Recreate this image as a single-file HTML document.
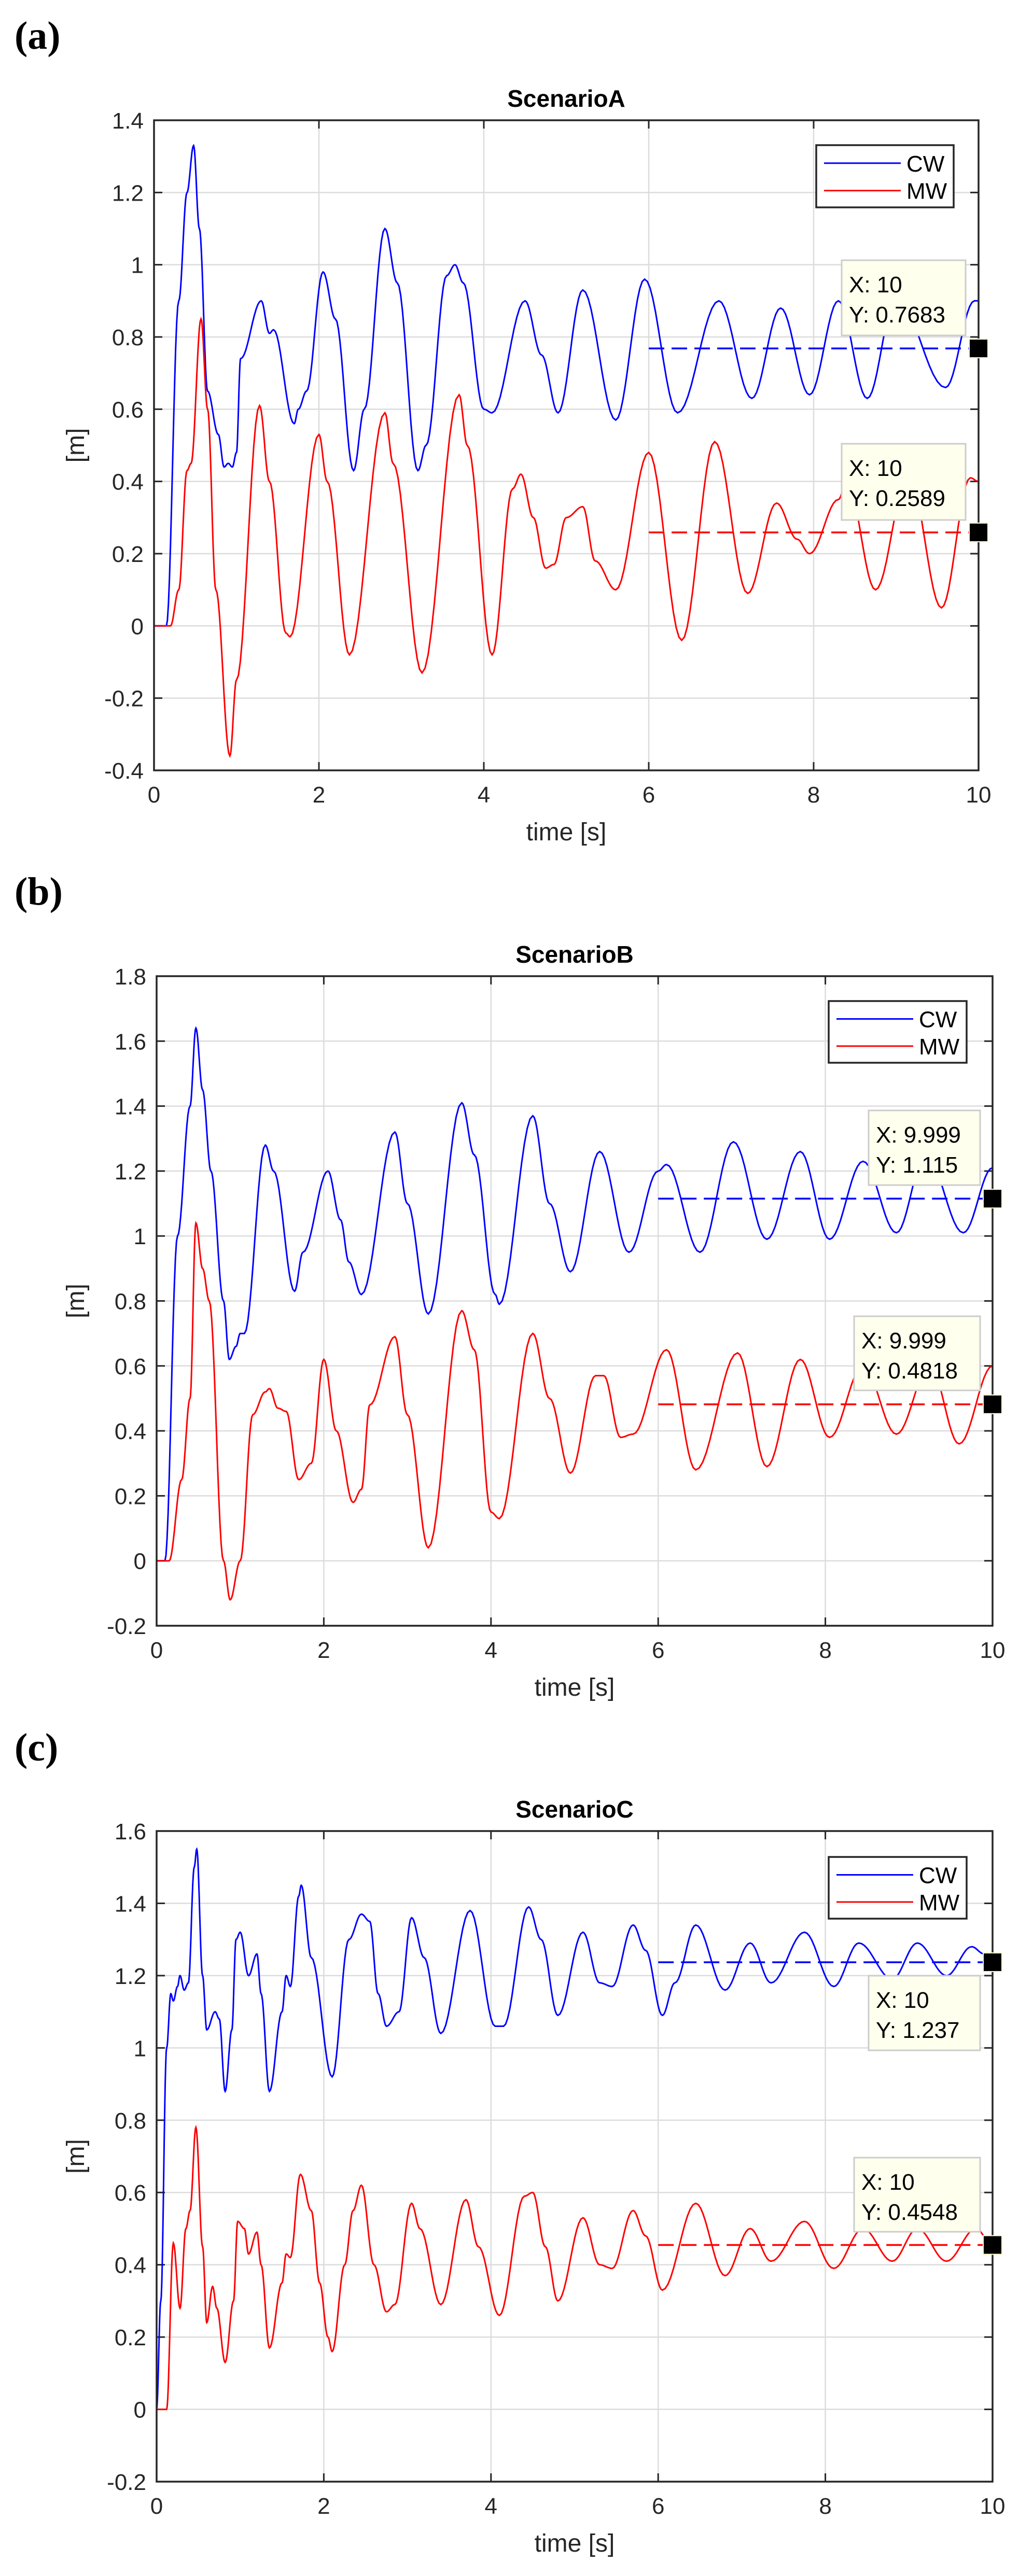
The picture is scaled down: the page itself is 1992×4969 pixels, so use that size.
<!DOCTYPE html>
<html><head><meta charset="utf-8"><style>
html,body{margin:0;padding:0;background:#fff}
svg text{font-family:"Liberation Sans",Arial,sans-serif}
</style></head><body>
<svg id="s" xmlns="http://www.w3.org/2000/svg" width="1992" height="4964" viewBox="0 0 1992 4964"></svg>
<script>
const NS="http://www.w3.org/2000/svg";const S=document.getElementById('s');
function el(t,a,txt){const e=document.createElementNS(NS,t);for(const k in a)e.setAttribute(k,a[k]);if(txt!==undefined)e.textContent=txt;S.appendChild(e);return e;}
function path(pts,P){let d="";const X=t=>P.L+(P.R-P.L)*t/10,Y=v=>P.B-(P.B-P.T)*(v-P.ymin)/(P.ymax-P.ymin);
 for(let i=0;i<pts.length-1;i++){const [t0,v0]=pts[i],[t1,v1]=pts[i+1];const n=12;
  for(let k=0;k<=n;k++){if(i>0&&k==0)continue;const f=k/n,t=t0+(t1-t0)*f,c=(1-Math.cos(Math.PI*f))/2,v=v0+(v1-v0)*c;
   d+=(d?"L":"M")+X(t).toFixed(1)+","+Y(v).toFixed(1);}}
 return d;}
function panel(P){
 const X=t=>P.L+(P.R-P.L)*t/10,Y=v=>P.B-(P.B-P.T)*(v-P.ymin)/(P.ymax-P.ymin);
 el('text',{x:28,y:P.lab+24,'font-size':76,'font-weight':'bold',style:'font-family:"Liberation Serif",serif'},P.letter);
 el('text',{x:(P.L+P.R)/2,y:P.T-26,'font-size':46,'font-weight':'bold','text-anchor':'middle'},P.title);
 for(let t=0;t<=10;t+=2){el('line',{x1:X(t),x2:X(t),y1:P.T,y2:P.B,stroke:'#dcdcdc','stroke-width':2.5});}
 for(let v=P.ymin;v<=P.ymax+1e-9;v+=0.2){el('line',{x1:P.L,x2:P.R,y1:Y(v),y2:Y(v),stroke:'#dcdcdc','stroke-width':2.5});}
 for(let t=0;t<=10;t+=2){el('line',{x1:X(t),x2:X(t),y1:P.B,y2:P.B-16,stroke:'#262626','stroke-width':3});el('line',{x1:X(t),x2:X(t),y1:P.T,y2:P.T+16,stroke:'#262626','stroke-width':3});
  el('text',{x:X(t),y:P.B+62,'font-size':44,'text-anchor':'middle',fill:'#262626'},String(t));}
 for(let v=P.ymin;v<=P.ymax+1e-9;v+=0.2){const vv=Math.round(v*10)/10;el('line',{x1:P.L,x2:P.L+16,y1:Y(v),y2:Y(v),stroke:'#262626','stroke-width':3});el('line',{x1:P.R,x2:P.R-16,y1:Y(v),y2:Y(v),stroke:'#262626','stroke-width':3});
  el('text',{x:P.L-20,y:Y(v)+16,'font-size':44,'text-anchor':'end',fill:'#262626'},String(vv));}
 el('text',{x:(P.L+P.R)/2,y:P.B+135,'font-size':48,'text-anchor':'middle',fill:'#262626'},'time [s]');
 el('text',{x:0,y:0,'font-size':48,'text-anchor':'middle',fill:'#262626',transform:`translate(162,${(P.T+P.B)/2}) rotate(-90)`},'[m]');
 el('path',{d:path(P.cw,P),fill:'none',stroke:'#0000ff','stroke-width':3});
 el('path',{d:path(P.mw,P),fill:'none',stroke:'#ff0000','stroke-width':3});
 el('line',{x1:X(6),x2:X(10),y1:Y(P.dv[0]),y2:Y(P.dv[0]),stroke:'#0000ff','stroke-width':3.5,'stroke-dasharray':'30 14'});
 el('line',{x1:X(6),x2:X(10),y1:Y(P.dv[1]),y2:Y(P.dv[1]),stroke:'#ff0000','stroke-width':3.5,'stroke-dasharray':'30 14'});
 el('rect',{x:P.L,y:P.T,width:P.R-P.L,height:P.B-P.T,fill:'none',stroke:'#262626','stroke-width':3.5});
 const g=P.leg;el('rect',{x:g[0],y:g[1],width:g[2]-g[0],height:g[3]-g[1],fill:'#fff',stroke:'#262626','stroke-width':3.5});
 const r1=g[1]+(g[3]-g[1])*0.29,r2=g[1]+(g[3]-g[1])*0.73;
 el('line',{x1:g[0]+15,x2:g[0]+163,y1:r1,y2:r1,stroke:'#0000ff','stroke-width':3});
 el('line',{x1:g[0]+15,x2:g[0]+163,y1:r2,y2:r2,stroke:'#ff0000','stroke-width':3});
 el('text',{x:g[0]+174,y:r1+16,'font-size':44},'CW');el('text',{x:g[0]+174,y:r2+16,'font-size':44},'MW');
 P.tips.forEach(([x0,y0,x1,y1,a,b])=>{el('rect',{x:x0,y:y0,width:x1-x0,height:y1-y0,fill:'#ffffee',stroke:'#cccccc','stroke-width':3});
  el('text',{x:x0+14,y:y0+62,'font-size':44},a);el('text',{x:x0+14,y:y0+120,'font-size':44},b);});
 P.dv.forEach(v=>el('rect',{x:P.R-18,y:Y(v)-18,width:36,height:36,fill:'#000',stroke:'#ffffcc','stroke-width':2}));
}
panel({letter:'(a)',lab:70,title:'ScenarioA',L:297,R:1887,T:232,B:1486,ymin:-0.4,ymax:1.4,leg:[1574,280,1839,400],dv:[0.7683,0.2589],
 tips:[[1623,502,1862,647,'X: 10','Y: 0.7683'],[1623,856,1862,1003,'X: 10','Y: 0.2589']],
 cw:[[0,0],[0.15,0],[0.3,0.9],[0.4,1.2],[0.48,1.33],[0.55,1.1],[0.65,0.65],[0.78,0.53],[0.85,0.44],[0.9,0.45],[0.95,0.44],[1.0,0.48],[1.05,0.74],[1.3,0.9],[1.4,0.81],[1.45,0.82],[1.7,0.56],[1.75,0.6],[1.85,0.65],[2.05,0.98],[2.2,0.85],[2.42,0.43],[2.55,0.6],[2.8,1.1],[2.95,0.95],[3.2,0.43],[3.3,0.5],[3.55,0.97],[3.65,1.0],[3.75,0.95],[4.0,0.6],[4.1,0.59],[4.5,0.9],[4.7,0.75],[4.9,0.59],[5.2,0.93],[5.6,0.57],[5.95,0.96],[6.35,0.59],[6.85,0.9],[7.25,0.63],[7.6,0.88],[7.95,0.64],[8.3,0.9],[8.65,0.63],[9.0,0.91],[9.6,0.66],[9.95,0.9],[10,0.9]],
 mw:[[0,0],[0.2,0],[0.3,0.1],[0.4,0.43],[0.45,0.45],[0.57,0.85],[0.65,0.6],[0.75,0.1],[0.92,-0.36],[1.0,-0.15],[1.28,0.61],[1.4,0.4],[1.6,-0.02],[1.65,-0.03],[2.0,0.53],[2.1,0.4],[2.37,-0.08],[2.8,0.59],[2.9,0.45],[3.25,-0.13],[3.7,0.64],[3.8,0.5],[4.1,-0.08],[4.35,0.38],[4.45,0.42],[4.6,0.3],[4.75,0.16],[4.85,0.17],[5.0,0.3],[5.2,0.33],[5.35,0.18],[5.6,0.1],[6.0,0.48],[6.4,-0.04],[6.8,0.51],[7.2,0.09],[7.55,0.34],[7.8,0.24],[7.95,0.2],[8.3,0.35],[8.4,0.4],[8.75,0.1],[9.15,0.42],[9.55,0.05],[9.9,0.41],[10,0.4]]});
panel({letter:'(b)',lab:1721,title:'ScenarioB',L:302,R:1914,T:1883,B:3136,ymin:-0.2,ymax:1.8,leg:[1598,1931,1864,2050],dv:[1.115,0.4818],
 tips:[[1675,2142,1890,2286,'X: 9.999','Y: 1.115'],[1647,2539,1890,2682,'X: 9.999','Y: 0.4818']],
 cw:[[0,0],[0.1,0],[0.25,1.0],[0.4,1.4],[0.47,1.64],[0.55,1.45],[0.65,1.2],[0.8,0.8],[0.87,0.62],[0.95,0.66],[1.0,0.7],[1.05,0.7],[1.3,1.28],[1.4,1.2],[1.65,0.83],[1.75,0.95],[2.05,1.2],[2.2,1.05],[2.3,0.92],[2.45,0.82],[2.85,1.32],[3.0,1.1],[3.25,0.76],[3.65,1.41],[3.8,1.25],[4.05,0.82],[4.1,0.79],[4.5,1.37],[4.7,1.1],[4.95,0.89],[5.3,1.26],[5.65,0.95],[6.0,1.2],[6.1,1.22],[6.5,0.95],[6.9,1.29],[7.3,0.99],[7.7,1.26],[8.05,0.99],[8.45,1.23],[8.85,1.01],[9.2,1.25],[9.65,1.01],[10,1.21]],
 mw:[[0,0],[0.15,0],[0.3,0.25],[0.4,0.5],[0.47,1.04],[0.55,0.9],[0.63,0.8],[0.8,0.0],[0.88,-0.12],[1.0,0.0],[1.15,0.45],[1.3,0.52],[1.35,0.53],[1.45,0.47],[1.55,0.46],[1.7,0.25],[1.85,0.3],[2.0,0.62],[2.15,0.4],[2.35,0.18],[2.45,0.22],[2.55,0.48],[2.85,0.69],[3.0,0.45],[3.25,0.04],[3.65,0.77],[3.8,0.65],[4.0,0.15],[4.1,0.13],[4.5,0.7],[4.7,0.5],[4.95,0.27],[5.25,0.57],[5.35,0.57],[5.55,0.38],[5.7,0.39],[6.1,0.65],[6.45,0.28],[6.95,0.64],[7.3,0.29],[7.7,0.62],[8.05,0.38],[8.45,0.6],[8.85,0.39],[9.25,0.6],[9.6,0.36],[10,0.6]]});
panel({letter:'(c)',lab:3372,title:'ScenarioC',L:302,R:1914,T:3532,B:4787,ymin:-0.2,ymax:1.6,leg:[1598,3582,1864,3701],dv:[1.237,0.4548],
 tips:[[1675,3811,1890,3955,'X: 10','Y: 1.237'],[1647,4162,1890,4305,'X: 10','Y: 0.4548']],
 cw:[[0,0],[0.05,0.3],[0.12,1.0],[0.17,1.15],[0.2,1.13],[0.25,1.17],[0.28,1.2],[0.33,1.16],[0.38,1.18],[0.45,1.5],[0.48,1.55],[0.55,1.2],[0.6,1.05],[0.7,1.1],[0.75,1.08],[0.82,0.88],[0.9,1.05],[0.95,1.3],[1.0,1.32],[1.1,1.2],[1.2,1.26],[1.25,1.15],[1.35,0.88],[1.5,1.1],[1.55,1.2],[1.6,1.17],[1.7,1.42],[1.73,1.45],[1.85,1.25],[2.1,0.92],[2.3,1.3],[2.45,1.37],[2.55,1.35],[2.65,1.15],[2.75,1.06],[2.9,1.1],[3.05,1.36],[3.2,1.25],[3.4,1.04],[3.75,1.38],[4.05,1.06],[4.15,1.06],[4.45,1.39],[4.6,1.3],[4.8,1.09],[5.1,1.32],[5.3,1.18],[5.45,1.17],[5.7,1.34],[5.85,1.27],[6.05,1.09],[6.2,1.18],[6.45,1.34],[6.8,1.16],[7.1,1.29],[7.35,1.18],[7.75,1.32],[8.1,1.17],[8.4,1.29],[8.8,1.19],[9.1,1.29],[9.45,1.2],[9.75,1.28],[9.9,1.26],[10,1.237]],
 mw:[[0,0],[0.12,0],[0.2,0.46],[0.28,0.28],[0.35,0.5],[0.4,0.55],[0.47,0.78],[0.55,0.45],[0.6,0.24],[0.67,0.34],[0.72,0.28],[0.82,0.13],[0.92,0.3],[0.97,0.52],[1.05,0.5],[1.1,0.43],[1.2,0.49],[1.25,0.4],[1.35,0.17],[1.5,0.35],[1.55,0.43],[1.6,0.42],[1.72,0.65],[1.85,0.55],[1.95,0.35],[2.05,0.2],[2.1,0.16],[2.25,0.4],[2.35,0.55],[2.45,0.62],[2.6,0.4],[2.75,0.27],[2.85,0.29],[3.05,0.57],[3.15,0.5],[3.4,0.29],[3.7,0.58],[3.85,0.45],[4.1,0.26],[4.4,0.59],[4.5,0.6],[4.65,0.45],[4.8,0.3],[5.1,0.53],[5.3,0.4],[5.45,0.39],[5.7,0.55],[5.85,0.48],[6.05,0.33],[6.45,0.57],[6.8,0.37],[7.1,0.5],[7.35,0.41],[7.75,0.52],[8.1,0.39],[8.45,0.5],[8.8,0.41],[9.1,0.5],[9.45,0.41],[9.8,0.5],[10,0.455]]});
</script>
</body></html>
